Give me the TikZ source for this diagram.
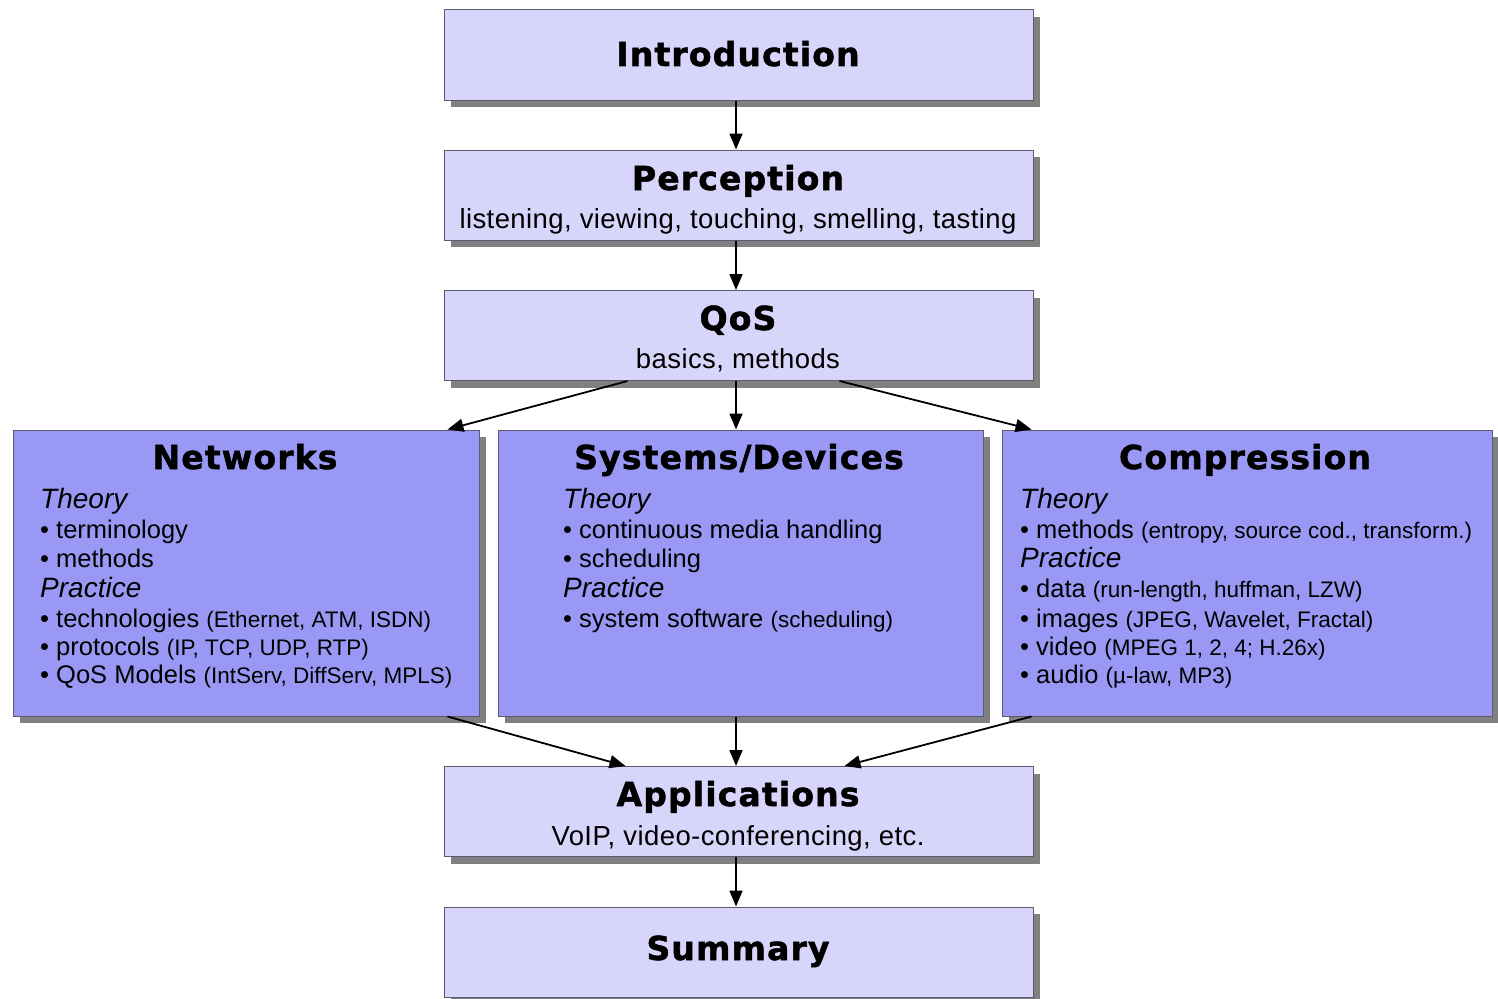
\documentclass[tikz,border=0pt]{standalone}
\usepackage{fontspec}
\setmainfont{Liberation Sans}
\newfontfamily\titlefont{DejaVu Sans}[LetterSpace=3.5, FakeBold=1.6]
\newfontfamily\subfont{Liberation Sans}[LetterSpace=1.5]
\usetikzlibrary{arrows.meta,shadows}
\definecolor{lightfill}{HTML}{D8D5FA}
\definecolor{darkfill}{HTML}{9999F5}
\definecolor{boxline}{HTML}{5A5A70}
\newcommand\sm[1]{{\fontsize{22.5}{26}\selectfont #1}}
\tikzset{
  boxbase/.style={rectangle, draw=boxline, line width=1pt, inner sep=0pt,
    drop shadow={shadow xshift=7pt, shadow yshift=-7pt, fill=black!50, opacity=1}},
  lightbox/.style={boxbase, fill=lightfill, minimum width=589pt, minimum height=90pt},
  darkbox/.style={boxbase, fill=darkfill, minimum height=286pt},
  ttl/.style={anchor=base, inner sep=0pt, font=\titlefont\bfseries\fontsize{33}{36}\selectfont},
  subttl/.style={anchor=base, inner sep=0pt, font=\subfont\fontsize{27.5}{30}\selectfont},
  head/.style={anchor=base west, inner sep=0pt, font=\itshape\fontsize{28}{30}\selectfont},
  item/.style={anchor=base west, inner sep=0pt, font=\fontsize{25.5}{30}\selectfont},
  arr/.style={line width=1.8pt, -{Triangle[length=16pt,width=13pt]}}
}
\begin{document}
\begin{tikzpicture}[x=1pt,y=-1pt]
\fill[white] (0,0) rectangle (1498,998);
\useasboundingbox (0,0) rectangle (1498,998);

% light boxes
\node[lightbox] (intro) at (738.5,55) {};
\node[lightbox] (per) at (738.5,195) {};
\node[lightbox] (qos) at (738.5,335.5) {};
\node[lightbox] (app) at (738.5,811.5) {};
\node[lightbox] (sum) at (738.5,952) {};

% dark boxes
\node[darkbox, minimum width=466pt] (net) at (246,573) {};
\node[darkbox, minimum width=485pt] (sys) at (740.5,573) {};
\node[darkbox, minimum width=490pt] (comp) at (1247,573) {};

% titles of light boxes
\node[ttl] (introT) at (738,66) {Introduction};
\node[ttl] (perT) at (738,190) {Perception};
\node[subttl] (perS) at (738,228) {listening, viewing, touching, smelling, tasting};
\node[ttl] (qosT) at (738,330) {QoS};
\node[subttl] (qosS) at (738,368) {basics, methods};
\node[ttl] (appT) at (738,806) {Applications};
\node[subttl] (appS) at (738,845) {VoIP, video-conferencing, etc.};
\node[ttl] (sumT) at (738,960) {Summary};

% Networks
\node[ttl] (netT) at (245,469) {Networks};
\node[head] (net1) at (40,508) {Theory};
\node[item] (net2) at (40,538) {• terminology};
\node[item] (net3) at (40,567) {• methods};
\node[head] (net4) at (40,597) {Practice};
\node[item] (net5) at (40,627) {• technologies \sm{(Ethernet, ATM, ISDN)}};
\node[item] (net6) at (40,655) {• protocols \sm{(IP, TCP, UDP, RTP)}};
\node[item] (net7) at (40,683) {• QoS Models \sm{(IntServ, DiffServ, MPLS)}};

% Systems/Devices
\node[ttl] (sysT) at (739,469) {Systems/Devices};
\node[head] (sys1) at (563,508) {Theory};
\node[item] (sys2) at (563,538) {• continuous media handling};
\node[item] (sys3) at (563,567) {• scheduling};
\node[head] (sys4) at (563,597) {Practice};
\node[item] (sys5) at (563,627) {• system software \sm{(scheduling)}};

% Compression
\node[ttl] (compT) at (1245,469) {Compression};
\node[head] (comp1) at (1020,508) {Theory};
\node[item] (comp2) at (1020,538) {• methods \sm{(entropy, source cod., transform.)}};
\node[head] (comp3) at (1020,567) {Practice};
\node[item] (comp4) at (1020,597) {• data \sm{(run-length, huffman, LZW)}};
\node[item] (comp5) at (1020,627) {• images \sm{(JPEG, Wavelet, Fractal)}};
\node[item] (comp6) at (1020,655) {• video \sm{(MPEG 1, 2, 4; H.26x)}};
\node[item] (comp7) at (1020,683) {• audio \sm{(µ-law, MP3)}};

% connectors
\draw[arr] ([xshift=-2.5pt]intro.south) -- ([xshift=-2.5pt]per.north);
\draw[arr] ([xshift=-2.5pt]per.south) -- ([xshift=-2.5pt]qos.north);
\draw[arr] ([xshift=-2.5pt]qos.south) -- ([xshift=-4.5pt]sys.north);
\draw[arr] ([xshift=184pt]qos.south west) -- ([xshift=-32pt]net.north east);
\draw[arr] ([xshift=396pt]qos.south west) -- ([xshift=30pt]comp.north west);
\draw[arr] ([xshift=-4.5pt]sys.south) -- ([xshift=-2.5pt]app.north);
\draw[arr] ([xshift=-32pt]net.south east) -- ([xshift=182pt]app.north west);
\draw[arr] ([xshift=30pt]comp.south west) -- ([xshift=401pt]app.north west);
\draw[arr] ([xshift=-2.5pt]app.south) -- ([xshift=-2.5pt]sum.north);
\end{tikzpicture}
\end{document}
